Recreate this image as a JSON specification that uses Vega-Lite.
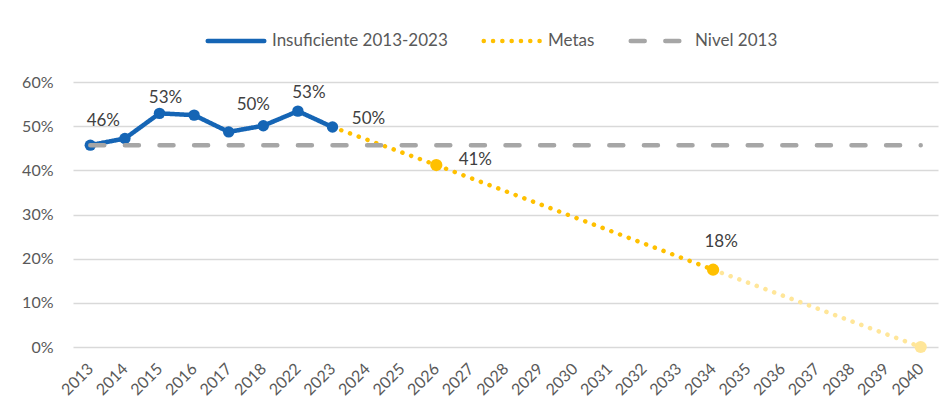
{
  "$schema": "https://vega.github.io/schema/vega-lite/v6.json",
  "width": 865,
  "height": 265,
  "autosize": "none",
  "padding": {"left": 73, "top": 82, "right": 9, "bottom": 67},
  "background": "white",
  "config": {
    "view": {"stroke": null},
    "font": "Lato",
    "axis": {"labelFont": "Lato", "labelFontSize": 16, "labelColor": "#595959", "ticks": false, "domain": false, "title": null}
  },
  "datasets": {
    "series": [
      {"serie": "Insuficiente 2013-2023", "year": "2013", "value": 0.457},
      {"serie": "Insuficiente 2013-2023", "year": "2014", "value": 0.472},
      {"serie": "Insuficiente 2013-2023", "year": "2015", "value": 0.529},
      {"serie": "Insuficiente 2013-2023", "year": "2016", "value": 0.525},
      {"serie": "Insuficiente 2013-2023", "year": "2017", "value": 0.487},
      {"serie": "Insuficiente 2013-2023", "year": "2018", "value": 0.501},
      {"serie": "Insuficiente 2013-2023", "year": "2022", "value": 0.534},
      {"serie": "Insuficiente 2013-2023", "year": "2023", "value": 0.498},
      {"serie": "Metas", "year": "2023", "value": 0.498},
      {"serie": "Metas", "year": "2026", "value": 0.412},
      {"serie": "Metas", "year": "2034", "value": 0.175},
      {"serie": "Nivel 2013", "year": "2013", "value": 0.457},
      {"serie": "Nivel 2013", "year": "2040", "value": 0.457}
    ],
    "future": [
      {"year": "2034", "value": 0.175},
      {"year": "2040", "value": 0.0}
    ],
    "labels": [
      {"year": "2013", "value": 0.457, "label": "46%"},
      {"year": "2015", "value": 0.529, "label": "53%"},
      {"year": "2018", "value": 0.501, "label": "50%"},
      {"year": "2022", "value": 0.534, "label": "53%"},
      {"year": "2023", "value": 0.498, "label": "50%"},
      {"year": "2026", "value": 0.412, "label": "41%"},
      {"year": "2034", "value": 0.175, "label": "18%"}
    ]
  },
  "encoding": {
    "x": {
      "field": "year", "type": "ordinal",
      "scale": {"type": "point", "padding": 0.5, "domain": ["2013","2014","2015","2016","2017","2018","2022","2023","2024","2025","2026","2027","2028","2029","2030","2031","2032","2033","2034","2035","2036","2037","2038","2039","2040"]},
      "axis": {"labelAngle": -45, "labelAlign": "right", "labelBaseline": "middle", "labelPadding": 19, "grid": false}
    },
    "y": {
      "field": "value", "type": "quantitative",
      "scale": {"domain": [0, 0.6], "nice": false},
      "axis": {"format": ".0%", "values": [0, 0.1, 0.2, 0.3, 0.4, 0.5, 0.6], "gridColor": "#D9D9D9", "gridWidth": 1.5, "labelPadding": 20}
    }
  },
  "layer": [
    {
      "data": {"name": "series"},
      "transform": [{"filter": "datum.serie !== 'Nivel 2013'"}],
      "mark": {"type": "line", "strokeWidth": 4.5, "strokeCap": "round", "strokeJoin": "round"},
      "encoding": {
        "color": {
          "field": "serie", "type": "nominal",
          "scale": {"domain": ["Insuficiente 2013-2023", "Metas", "Nivel 2013"], "range": ["#1565B5", "#FFC000", "#A6A6A6"]},
          "legend": {
            "orient": "none", "legendX": 132, "legendY": -72, "direction": "horizontal", "title": null,
            "symbolType": "stroke", "symbolSize": 3200, "symbolStrokeWidth": 4.5,
            "labelFontSize": 17, "labelColor": "#595959", "labelFont": "Lato", "labelOffset": 5, "columnPadding": 26, "labelLimit": 0,
            "encode": {"symbols": {"update": {"strokeCap": {"value": "round"}}}}
          }
        },
        "strokeDash": {
          "field": "serie", "type": "nominal",
          "scale": {"domain": ["Insuficiente 2013-2023", "Metas", "Nivel 2013"], "range": [[1, 0], [0.1, 9.2], [14, 20.6]]},
          "legend": null
        },
        "detail": {"field": "serie"}
      }
    },
    {
      "data": {"name": "future"},
      "mark": {"type": "line", "strokeWidth": 4.5, "strokeCap": "round", "color": "#FFE699", "strokeDash": [0.1, 9.2]},
      "encoding": {}
    },
    {
      "data": {"name": "series"},
      "transform": [{"filter": "datum.serie === 'Insuficiente 2013-2023'"}],
      "mark": {"type": "point", "filled": true, "size": 130, "opacity": 1, "color": "#1565B5"},
      "encoding": {}
    },
    {
      "data": {"name": "series"},
      "transform": [{"filter": "datum.serie === 'Metas' && datum.year !== '2023'"}],
      "mark": {"type": "point", "filled": true, "size": 150, "opacity": 1, "color": "#FFC000"},
      "encoding": {}
    },
    {
      "data": {"name": "future"},
      "transform": [{"filter": "datum.year === '2040'"}],
      "mark": {"type": "point", "filled": true, "size": 150, "opacity": 1, "color": "#FFE699"},
      "encoding": {}
    },
    {
      "data": {"name": "series"},
      "transform": [{"filter": "datum.serie === 'Nivel 2013'"}],
      "mark": {"type": "line", "strokeWidth": 4.5, "strokeCap": "round"},
      "encoding": {
        "color": {"field": "serie", "type": "nominal"},
        "strokeDash": {"field": "serie", "type": "nominal", "legend": null}
      }
    },
    {"data": {"name": "labels"}, "transform": [{"filter": "datum.year === '2013'"}], "mark": {"type": "text", "fontSize": 17, "color": "#404040", "dx": 13, "dy": -24}, "encoding": {"text": {"field": "label"}}},
    {"data": {"name": "labels"}, "transform": [{"filter": "datum.year === '2015'"}], "mark": {"type": "text", "fontSize": 17, "color": "#404040", "dx": 6, "dy": -15}, "encoding": {"text": {"field": "label"}}},
    {"data": {"name": "labels"}, "transform": [{"filter": "datum.year === '2018'"}], "mark": {"type": "text", "fontSize": 17, "color": "#404040", "dx": -10, "dy": -21}, "encoding": {"text": {"field": "label"}}},
    {"data": {"name": "labels"}, "transform": [{"filter": "datum.year === '2022'"}], "mark": {"type": "text", "fontSize": 17, "color": "#404040", "dx": 11, "dy": -18}, "encoding": {"text": {"field": "label"}}},
    {"data": {"name": "labels"}, "transform": [{"filter": "datum.year === '2023'"}], "mark": {"type": "text", "fontSize": 17, "color": "#404040", "dx": 36, "dy": -8}, "encoding": {"text": {"field": "label"}}},
    {"data": {"name": "labels"}, "transform": [{"filter": "datum.year === '2026'"}], "mark": {"type": "text", "fontSize": 17, "color": "#404040", "dx": 39, "dy": -5}, "encoding": {"text": {"field": "label"}}},
    {"data": {"name": "labels"}, "transform": [{"filter": "datum.year === '2034'"}], "mark": {"type": "text", "fontSize": 17, "color": "#404040", "dx": 8, "dy": -28}, "encoding": {"text": {"field": "label"}}}
  ]
}
